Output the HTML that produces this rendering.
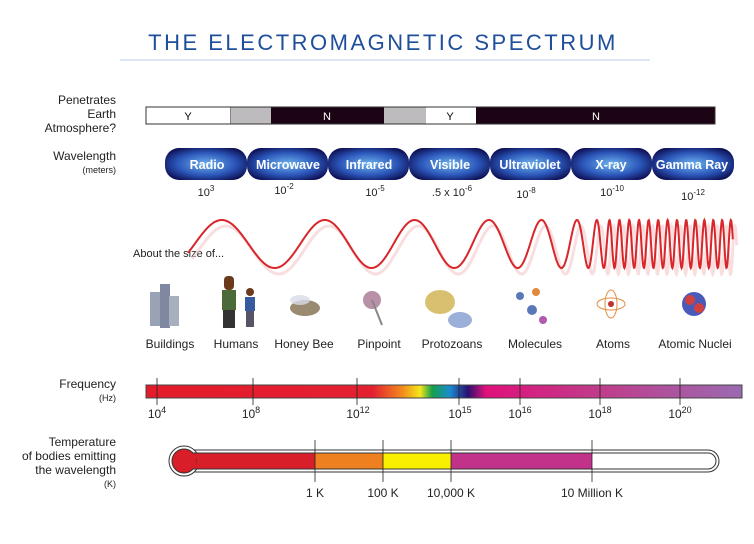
<!DOCTYPE html>
<html><head><meta charset="utf-8"><style>
body{margin:0;background:#fff;width:754px;height:539px;overflow:hidden;font-family:"Liberation Sans",sans-serif}
</style></head><body>
<svg width="754" height="539" viewBox="0 0 754 539" xmlns="http://www.w3.org/2000/svg" font-family="Liberation Sans, sans-serif">
<defs>
<radialGradient id="pill" cx="50%" cy="50%" r="60%">
<stop offset="0" stop-color="#6fb3ee"/><stop offset="0.6" stop-color="#2a55b8"/><stop offset="1" stop-color="#0d0d50"/></radialGradient>
<linearGradient id="freq" x1="0" x2="1">
<stop offset="0" stop-color="#e31b2b"/><stop offset="0.38" stop-color="#e42030"/><stop offset="0.43" stop-color="#f28a1c"/><stop offset="0.46" stop-color="#f5e61a"/><stop offset="0.48" stop-color="#14a04a"/><stop offset="0.51" stop-color="#1a8ad0"/><stop offset="0.54" stop-color="#2a1070"/><stop offset="0.57" stop-color="#e0107a"/><stop offset="0.75" stop-color="#c23a8a"/><stop offset="1" stop-color="#9a6ab0"/></linearGradient>
</defs>
<text x="383" y="50" text-anchor="middle" font-size="22" fill="#1f4e9a" letter-spacing="2.5">THE ELECTROMAGNETIC SPECTRUM</text>
<line x1="120" y1="60" x2="650" y2="60" stroke="#dde6f2" stroke-width="2"/>
<g font-size="12" fill="#222" text-anchor="end">
<text x="116" y="104">Penetrates</text><text x="116" y="118">Earth</text><text x="116" y="132">Atmosphere?</text>
<text x="116" y="160">Wavelength</text><text x="116" y="173" font-size="9">(meters)</text>
<text x="116" y="388">Frequency</text><text x="116" y="401" font-size="9">(Hz)</text>
<text x="116" y="446">Temperature</text><text x="116" y="460">of bodies emitting</text><text x="116" y="474">the wavelength</text><text x="116" y="487" font-size="9">(K)</text>
</g>
<rect x="146" y="107" width="569" height="17" fill="#1c0414" stroke="#333"/>
<rect x="146.5" y="107.5" width="84" height="16" fill="#fff"/>
<rect x="231" y="107.5" width="40" height="16" fill="#bdbbbe"/>
<rect x="384" y="107.5" width="42" height="16" fill="#bdbbbe"/>
<rect x="426" y="107.5" width="50" height="16" fill="#fff"/>
<g font-size="11" text-anchor="middle"><text x="188" y="120">Y</text><text x="327" y="120" fill="#fff">N</text><text x="450" y="120">Y</text><text x="596" y="120" fill="#fff">N</text></g>
<g font-size="12.5" font-weight="bold" fill="#fff" text-anchor="middle">
<rect x="165" y="148" width="82" height="32" rx="14" fill="url(#pill)"/><text x="207" y="169">Radio</text>
<rect x="247" y="148" width="81" height="32" rx="14" fill="url(#pill)"/><text x="288" y="169">Microwave</text>
<rect x="328" y="148" width="81" height="32" rx="14" fill="url(#pill)"/><text x="369" y="169">Infrared</text>
<rect x="409" y="148" width="81" height="32" rx="14" fill="url(#pill)"/><text x="450" y="169">Visible</text>
<rect x="490" y="148" width="81" height="32" rx="14" fill="url(#pill)"/><text x="530" y="169">Ultraviolet</text>
<rect x="571" y="148" width="81" height="32" rx="14" fill="url(#pill)"/><text x="611" y="169">X-ray</text>
<rect x="652" y="148" width="82" height="32" rx="14" fill="url(#pill)"/><text x="692" y="169">Gamma Ray</text>
</g>
<g font-size="11" fill="#222" text-anchor="middle">
<text x="206" y="196">10<tspan dy="-5" font-size="8">3</tspan></text>
<text x="284" y="194">10<tspan dy="-5" font-size="8">-2</tspan></text>
<text x="375" y="196">10<tspan dy="-5" font-size="8">-5</tspan></text>
<text x="452" y="196">.5 x 10<tspan dy="-5" font-size="8">-6</tspan></text>
<text x="526" y="198">10<tspan dy="-5" font-size="8">-8</tspan></text>
<text x="612" y="196">10<tspan dy="-5" font-size="8">-10</tspan></text>
<text x="693" y="200">10<tspan dy="-5" font-size="8">-12</tspan></text>
</g>
<text x="133" y="257" font-size="11" fill="#222">About the size of...</text>
<path id="wave2" d="" fill="none" stroke="#f3c8ca" stroke-width="3" transform="translate(4,6)" opacity="0.6"/>
<path id="wave" d="" fill="none" stroke="#d8262a" stroke-width="2"/>
<g>
<rect x="150" y="292" width="12" height="34" fill="#9aa3b5"/><rect x="160" y="284" width="10" height="44" fill="#7f88a0"/><rect x="169" y="296" width="10" height="30" fill="#a8b0c0"/>
<rect x="224" y="276" width="10" height="14" rx="4" fill="#6b3a1c"/><rect x="222" y="290" width="14" height="20" fill="#4a6a3a"/><rect x="223" y="310" width="12" height="18" fill="#333"/>
<circle cx="250" cy="292" r="4" fill="#6b3a1c"/><rect x="245" y="297" width="10" height="14" fill="#3a5aa0"/><rect x="246" y="311" width="8" height="16" fill="#556"/>
<ellipse cx="305" cy="308" rx="15" ry="8" fill="#9a8a70"/><ellipse cx="300" cy="300" rx="10" ry="5" fill="#d8dce8" opacity="0.8"/>
<circle cx="372" cy="300" r="9" fill="#b890a8"/><line x1="372" y1="300" x2="382" y2="325" stroke="#888" stroke-width="2"/>
<ellipse cx="440" cy="302" rx="15" ry="12" fill="#d8c070"/><ellipse cx="460" cy="320" rx="12" ry="8" fill="#9ab0d8"/>
<circle cx="520" cy="296" r="4" fill="#5a78b8"/><circle cx="536" cy="292" r="4" fill="#e08a40"/><circle cx="532" cy="310" r="5" fill="#5a78b8"/><circle cx="543" cy="320" r="4" fill="#b05ab0"/>
<ellipse cx="611" cy="304" rx="14" ry="6" fill="none" stroke="#e09040"/><ellipse cx="611" cy="304" rx="6" ry="14" fill="none" stroke="#e09040"/><circle cx="611" cy="304" r="3" fill="#c03030"/>
<circle cx="694" cy="304" r="12" fill="#4a5ab8"/><circle cx="690" cy="300" r="5" fill="#d04040"/><circle cx="699" cy="308" r="5" fill="#d04040"/>
</g>
<g font-size="12" fill="#222" text-anchor="middle">
<text x="170" y="348">Buildings</text><text x="236" y="348">Humans</text><text x="304" y="348">Honey Bee</text><text x="379" y="348">Pinpoint</text><text x="452" y="348">Protozoans</text><text x="535" y="348">Molecules</text><text x="613" y="348">Atoms</text><text x="695" y="348">Atomic Nuclei</text>
</g>
<rect x="146" y="385" width="596" height="13" fill="url(#freq)" stroke="#444"/>
<g stroke="#222" stroke-width="0.8">
<line x1="157" y1="378" x2="157" y2="405"/><line x1="253" y1="378" x2="253" y2="405"/><line x1="357" y1="378" x2="357" y2="405"/><line x1="459" y1="378" x2="459" y2="405"/><line x1="520" y1="378" x2="520" y2="405"/><line x1="600" y1="378" x2="600" y2="405"/><line x1="680" y1="378" x2="680" y2="405"/>
</g>
<g font-size="12" fill="#222" text-anchor="middle">
<text x="157" y="418">10<tspan dy="-5" font-size="9">4</tspan></text>
<text x="251" y="418">10<tspan dy="-5" font-size="9">8</tspan></text>
<text x="358" y="418">10<tspan dy="-5" font-size="9">12</tspan></text>
<text x="460" y="418">10<tspan dy="-5" font-size="9">15</tspan></text>
<text x="520" y="418">10<tspan dy="-5" font-size="9">16</tspan></text>
<text x="600" y="418">10<tspan dy="-5" font-size="9">18</tspan></text>
<text x="680" y="418">10<tspan dy="-5" font-size="9">20</tspan></text>
</g>
<rect x="175" y="450" width="544" height="22" rx="11" fill="#fff" stroke="#333"/>
<circle cx="184" cy="461" r="15" fill="#fff" stroke="#333"/>
<rect x="178" y="453" width="538" height="16" rx="8" fill="#fff" stroke="#333"/>
<rect x="184" y="453.5" width="131" height="15" fill="#d81e28"/>
<circle cx="184" cy="461" r="12" fill="#d81e28" stroke="#333"/>
<rect x="186" y="453.5" width="10" height="15" fill="#d81e28"/>
<rect x="315" y="453.5" width="68" height="15" fill="#ee8020"/>
<rect x="383" y="453.5" width="68" height="15" fill="#f8f000"/>
<rect x="451" y="453.5" width="141" height="15" fill="#c2328a"/>
<g stroke="#222" stroke-width="0.8"><line x1="315" y1="440" x2="315" y2="482"/><line x1="383" y1="440" x2="383" y2="482"/><line x1="451" y1="440" x2="451" y2="482"/><line x1="592" y1="440" x2="592" y2="482"/></g>
<g font-size="12" fill="#222" text-anchor="middle"><text x="315" y="497">1 K</text><text x="383" y="497">100 K</text><text x="451" y="497">10,000 K</text><text x="592" y="497">10 Million K</text></g>
</svg>
<script>
var X=[188,274,371,454,518,562,590,610,740],L=[110,104,90,76,52,36,18,10,8.6];
function lam(x){for(var i=0;i<X.length-1;i++){if(x<=X[i+1]){var t=(x-X[i])/(X[i+1]-X[i]);return L[i]+t*(L[i+1]-L[i]);}}return L[L.length-1];}
var d="",ph=-0.38,step=0.4;
for(var x=188;x<=733;x+=step){var y=244-24*Math.sin(ph);d+=(d?"L":"M")+x.toFixed(1)+" "+y.toFixed(1);ph+=step*2*Math.PI/lam(x);}
document.getElementById("wave").setAttribute("d",d);document.getElementById("wave2").setAttribute("d",d);
</script>
</body></html>
